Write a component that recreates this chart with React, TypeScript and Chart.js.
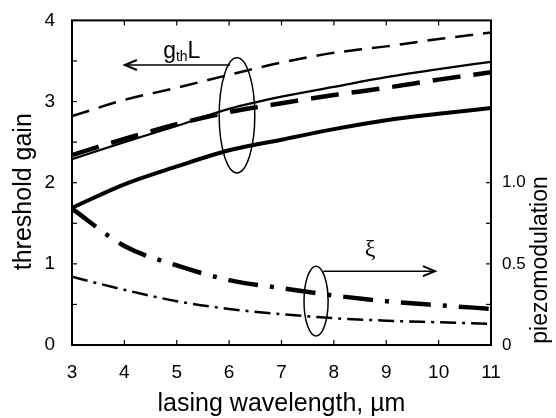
import React, { useEffect, useRef } from "react";
import { Chart, registerables } from "chart.js";

Chart.register(...registerables);

// ---- data ----
const wavelengths = [3, 4, 5, 6, 7, 8, 9, 10, 11];
const gainThinDashed = [2.82, 3.02, 3.17, 3.33, 3.48, 3.6, 3.68, 3.77, 3.85];
const gainThinSolid = [2.29, 2.5, 2.7, 2.91, 3.06, 3.18, 3.3, 3.4, 3.49];
const gainThickDashed = [2.34, 2.54, 2.72, 2.87, 2.98, 3.08, 3.17, 3.27, 3.36];
const gainThickSolid = [1.69, 1.98, 2.2, 2.4, 2.53, 2.66, 2.77, 2.85, 2.92];
const piezoThick = [0.84, 0.61, 0.49, 0.4, 0.35, 0.305, 0.27, 0.245, 0.223];
const piezoThin = [0.42, 0.34, 0.27, 0.222, 0.19, 0.165, 0.15, 0.14, 0.13];

const leftTickLabels = ["0", "1", "2", "3", "4"];
const rightTickValues = [0, 0.5, 1.0];
const rightTickLabels = ["0", "0.5", "1.0"];

const xTitle = "lasing wavelength, \u00b5m";
const leftTitle = "threshold gain";
const rightTitle = "piezomodulation";

const FONT = '"Liberation Sans", Arial, sans-serif';

const pts = (ys: number[]) => wavelengths.map((x, i) => ({ x, y: ys[i] }));

const framePlugin = {
  id: "frameAndAnnotations",
  afterDatasetsDraw(chart: any) {
    const { ctx, chartArea, scales } = chart;
    const { left, right, top, bottom } = chartArea;
    const sx = scales.x, sy = scales.y, sy2 = scales.y2;
    ctx.save();
    ctx.strokeStyle = "#000";
    ctx.fillStyle = "#000";
    // frame
    ctx.lineWidth = 2;
    ctx.strokeRect(left, top, right - left, bottom - top);
    // inward ticks
    ctx.lineWidth = 1.2;
    const L = 5;
    const seg = (x1: number, y1: number, x2: number, y2: number) => {
      ctx.beginPath();
      ctx.moveTo(x1, y1);
      ctx.lineTo(x2, y2);
      ctx.stroke();
    };
    sx.ticks.forEach((t: any) => {
      const p = sx.getPixelForValue(t.value);
      seg(p, bottom, p, bottom - L);
      seg(p, top, p, top + L);
    });
    sy.ticks.forEach((t: any) => {
      const p = sy.getPixelForValue(t.value);
      seg(left, p, left + L, p);
    });
    sy2.ticks.forEach((t: any) => {
      const p = sy2.getPixelForValue(t.value);
      seg(right, p, right - L, p);
    });

    // annotations
    ctx.lineWidth = 1.5;
    const ellipse = (cx: number, cy: number, rx: number, ry: number) => {
      const px = sx.getPixelForValue(cx);
      const py = sy.getPixelForValue(cy);
      const rpx = Math.abs(sx.getPixelForValue(cx + rx) - px);
      const rpy = Math.abs(sy.getPixelForValue(cy + ry) - py);
      ctx.beginPath();
      ctx.ellipse(px, py, rpx, rpy, 0, 0, Math.PI * 2);
      ctx.stroke();
    };
    const arrow = (x1: number, x2: number, yv: number) => {
      const p1 = sx.getPixelForValue(x1);
      const p2 = sx.getPixelForValue(x2);
      const py = sy.getPixelForValue(yv);
      seg(p1, py, p2, py);
      const dir = p2 > p1 ? 1 : -1;
      ctx.beginPath();
      ctx.moveTo(p2 - dir * 12, py - 5);
      ctx.lineTo(p2, py);
      ctx.lineTo(p2 - dir * 12, py + 5);
      ctx.lineWidth = 2;
      ctx.stroke();
      ctx.lineWidth = 1.5;
    };
    // g_th L group
    ellipse(6.15, 2.83, 0.34, 0.71);
    arrow(6.02, 4.01, 3.45);
    let tx = sx.getPixelForValue(4.74);
    const ty = sy.getPixelForValue(3.54);
    ctx.textBaseline = "alphabetic";
    ctx.textAlign = "left";
    ctx.font = `23px ${FONT}`;
    ctx.fillText("g", tx, ty);
    tx += ctx.measureText("g").width;
    ctx.font = `14px ${FONT}`;
    ctx.fillText("th", tx, ty + 3);
    tx += ctx.measureText("th").width;
    ctx.font = `23px ${FONT}`;
    ctx.fillText("L", tx, ty);

    // xi group
    ellipse(7.66, 0.54, 0.23, 0.43);
    arrow(7.8, 9.93, 0.91);
    ctx.font = `24px "Liberation Serif", serif`;
    ctx.textAlign = "center";
    ctx.textBaseline = "middle";
    ctx.fillText("\u03be", sx.getPixelForValue(8.69), sy.getPixelForValue(1.18));

    // y titles
    ctx.font = `25px ${FONT}`;
    ctx.save();
    ctx.translate(24, (top + bottom) / 2 + 9);
    ctx.rotate(-Math.PI / 2);
    ctx.fillText(leftTitle, 0, 0);
    ctx.restore();
    ctx.font = `23px ${FONT}`;
    ctx.save();
    ctx.translate(chart.width - 15, bottom - 85);
    ctx.rotate(-Math.PI / 2);
    ctx.fillText(rightTitle, 0, 0);
    ctx.restore();

    ctx.restore();
  },
};

export default function App() {
  const ref = useRef<HTMLCanvasElement>(null);
  useEffect(() => {
    const common = {
      pointRadius: 0,
      fill: false,
      borderColor: "#000",
      cubicInterpolationMode: "monotone" as const,
      borderCapStyle: "butt" as const,
    };
    const chart = new Chart(ref.current!, {
      type: "line",
      data: {
        datasets: [
          { ...common, data: pts(gainThinDashed), yAxisID: "y", borderWidth: 2.5, borderDash: [18, 10] },
          { ...common, data: pts(gainThinSolid), yAxisID: "y", borderWidth: 2.2 },
          { ...common, data: pts(gainThickDashed), yAxisID: "y", borderWidth: 4.5, borderDash: [28, 13] },
          { ...common, data: pts(gainThickSolid), yAxisID: "y", borderWidth: 4 },
          { ...common, data: pts(piezoThick), yAxisID: "y2", borderWidth: 4.5, borderDash: [30, 12, 4, 12] },
          { ...common, data: pts(piezoThin), yAxisID: "y2", borderWidth: 2.5, borderDash: [16, 6, 3, 6] },
        ],
      },
      options: {
        responsive: false,
        animation: false,
        devicePixelRatio: 1,
        layout: { padding: { top: 12, left: 0, right: 0, bottom: 0 } },
        plugins: { legend: { display: false }, tooltip: { enabled: false } },
        scales: {
          x: {
            type: "linear",
            min: 3,
            max: 11,
            grid: { display: false },
            border: { display: false },
            ticks: { stepSize: 1, color: "#000", font: { family: FONT, size: 19 }, padding: 8, maxRotation: 0 },
            title: { display: true, text: xTitle, color: "#000", font: { family: FONT, size: 25 }, padding: { top: 0, bottom: -1 } },
            afterFit: (s: any) => { s.height = 73; },
          },
          y: {
            type: "linear",
            position: "left",
            min: 0,
            max: 4,
            grid: { display: false },
            border: { display: false },
            ticks: {
              stepSize: 0.5,
              color: "#000",
              font: { family: FONT, size: 19 },
              padding: 9,
              callback: (v: any) => (Number.isInteger(v) ? leftTickLabels[v] : ""),
            },
            afterFit: (s: any) => { s.width = 72; },
          },
          y2: {
            type: "linear",
            position: "right",
            min: 0,
            max: 2,
            grid: { display: false },
            border: { display: false },
            ticks: {
              stepSize: 0.25,
              color: "#000",
              font: { family: FONT, size: 17 },
              padding: 3,
              callback: (v: any) => {
                const i = rightTickValues.findIndex((r) => Math.abs(r - v) < 1e-6);
                return i >= 0 ? rightTickLabels[i] : "";
              },
            },
            afterBuildTicks: (s: any) => { s.ticks = s.ticks.filter((t: any) => t.value <= 1.0001); },
            afterFit: (s: any) => { s.width = 65; },
          },
        },
      },
      plugins: [framePlugin],
    } as any);
    return () => chart.destroy();
  }, []);
  return (
    <div style={{ position: "fixed", left: 0, top: 0, width: 556, height: 418, background: "#fff" }}>
      <canvas ref={ref} width={556} height={418} style={{ display: "block", width: 556, height: 418 }} />
    </div>
  );
}
